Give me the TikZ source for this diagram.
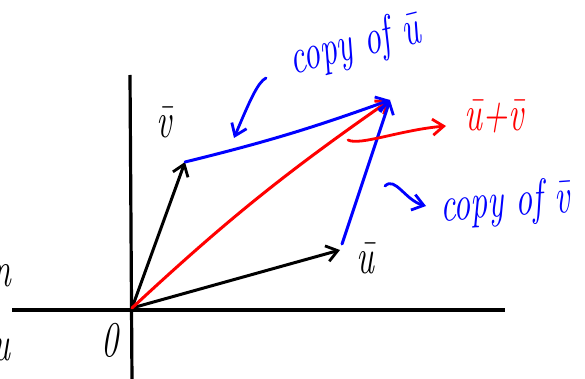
\documentclass[tikz,border=0pt]{standalone}
\usepackage{fix-cm}
\usepackage{tikz}
\usepackage{xcolor}
\usetikzlibrary{arrows.meta, positioning, calc}
\definecolor{ink}{HTML}{000000}
\definecolor{pen}{HTML}{0000FF}
\definecolor{hot}{HTML}{FF0000}
\newcommand{\narrow}[1]{\scalebox{0.68}[1]{#1}}
\tikzset{
  >={Straight Barb[length=11pt, width=16pt, line width=2.8pt]},
  %
  axis/.style={draw=ink, line width=3.2pt},
  vec/.style={draw=ink, line width=3pt, ->, line cap=round},
  vecb/.style={vec, draw=pen},
  vecr/.style={vec, draw=hot},
  hint/.style={line width=2.8pt, ->, line cap=round},
  %
  lbl/.style={text=ink, inner sep=1pt, font=\fontsize{50}{54}\selectfont\itshape},
  lblb/.style={lbl, text=pen},
  lblr/.style={lbl, text=hot},
}

\begin{document}
\begin{tikzpicture}[x=1pt, y=-1pt]
\useasboundingbox (0,0) rectangle (585,379);
\clip (0,0) rectangle (585,379);

% =========================================================================
% axes
% =========================================================================
\coordinate (O) at (132,308);
\coordinate (xl) at (12,310);
\coordinate (xr) at (505,310);
\coordinate (yt) at (130,75);
\coordinate (yb) at (132,382);
\draw[axis] (xl) -- (xr);
\draw[axis] (yt) -- (yb);
\node[lbl] (zero) at (110,340) {\narrow{0}};

% cut-off marks at the left edge
\node[lbl, anchor=east] (cutn) at (12,276) {\narrow{n}};
\node[lbl, anchor=east] (cutu) at (12,350) {\narrow{u}};

% =========================================================================
% the vectors and their copies
% =========================================================================
\coordinate (U) at (340,250);
\coordinate (V) at (185,162);
\coordinate (S) at (390,100);

\draw[vec] (O) -- (U);
\draw[vec] (O) -- (V);
\draw[vecr] (O) to[bend left=4] (S);
\draw[vecb] (V) to[bend right=3] (S);
\draw[vecb] ($(U)+(2,-6)$) -- (S);

\node[lbl] (ulbl) at (365,258) {\narrow{\=u}};
\node[lbl] (vlbl) at (164,122) {\narrow{\=v}};

% =========================================================================
% notes
% =========================================================================
\node[lblb, rotate=14] (cu) at (355,46) {\narrow{copy of \=u}};
\draw[hint, draw=pen] (266,78) .. controls (258,82) and (250,100) .. (234,138);

\node[lblr] (sum) at (494,116) {\narrow{\=u+\=v}};
\draw[hint, draw=hot] (348,140) .. controls (360,146) and (400,130) .. (446,126);

\node[lblb, rotate=4] (cv) at (505,204) {\narrow{copy of \=v}};
\draw[hint, draw=pen] (385,186) .. controls (395,176) and (405,200) .. (426,206);

\end{tikzpicture}
\end{document}
